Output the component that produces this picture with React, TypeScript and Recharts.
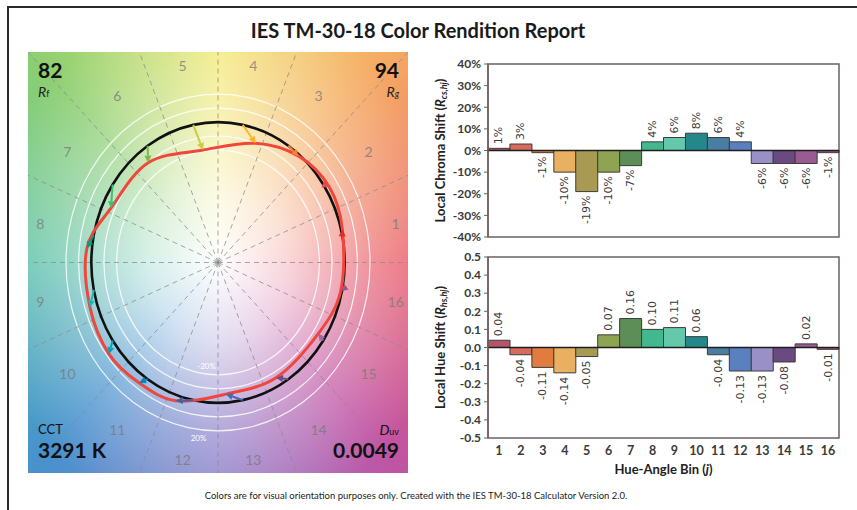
import React from "react";
import {
  BarChart,
  Bar,
  Cell,
  XAxis,
  YAxis,
  ReferenceLine,
  ReferenceArea,
  LabelList,
  Label,
  ComposedChart,
  Line,
  Scatter,
} from "recharts";

// Hue-angle bins and the two local shift series
const bins = ["1", "2", "3", "4", "5", "6", "7", "8", "9", "10", "11", "12", "13", "14", "15", "16"];
const chromaShift = [0.01, 0.03, -0.01, -0.1, -0.19, -0.1, -0.07, 0.04, 0.06, 0.08, 0.06, 0.04, -0.06, -0.06, -0.06, -0.01];
const hueShift = [0.04, -0.04, -0.11, -0.14, -0.05, 0.07, 0.16, 0.1, 0.11, 0.06, -0.04, -0.13, -0.13, -0.08, 0.02, -0.01];

const chromaTicks = [-0.4, -0.3, -0.2, -0.1, 0, 0.1, 0.2, 0.3, 0.4];
const hueTicks = [-0.5, -0.4, -0.3, -0.2, -0.1, 0, 0.1, 0.2, 0.3, 0.4, 0.5];

const barColors = [
  "#b5546a", "#d66a5c", "#e07c3e", "#e8b060", "#a89a52", "#8ea452", "#5e8e58", "#42b88e",
  "#66c8aa", "#24888a", "#4a7ea0", "#5a80c0", "#9a90c8", "#6a4a80", "#9a5a92", "#a64c78",
];
const arrowColors = [
  "#e62828", "#e74b4b", "#fb812e", "#ffb529", "#cbca46", "#7eb94c", "#41c06d", "#009c7c",
  "#16bcb0", "#00a4bf", "#0085c3", "#3b62aa", "#4568ae", "#6a4e85", "#9d69a1", "#a74f81",
];

const ringRadii = [0.8, 0.9, 1.1, 1.2];
const ringLabels = [
  { text: "-20%", r: 0.74 },
  { text: "20%", r: 1.26 },
];

const fidelityIndex = "82";
const gamutIndex = "94";
const cctText = "3291 K";
const duvText = "0.0049";

const FONT = "Lato, 'Open Sans', sans-serif";
const FRAME = "#6b6262";
const TEXT = "#3a3a3a";

// ---- vector graphic geometry ----
const PANEL_W = 380;
const PANEL_H = 421;
const SX = PANEL_W / 3;
const SY = PANEL_H / 3;
const STEP = (2 * Math.PI) / bins.length;
const binAngle = (i: number) => (i + 0.5) * STEP;

const refPoints = bins.map((_, i) => ({ x: Math.cos(binAngle(i)), y: Math.sin(binAngle(i)) }));
const testPoints = bins.map((_, i) => {
  const a = binAngle(i) + hueShift[i];
  const r = 1 + chromaShift[i];
  return { x: r * Math.cos(a), y: r * Math.sin(a) };
});
const arrows = testPoints.map((p, i) => ({ ...p, rx: refPoints[i].x, ry: refPoints[i].y, color: arrowColors[i] }));
const rings = ringRadii.map((r) => refPoints.map((p) => ({ x: p.x * r, y: p.y * r })));
const spokes = bins.map((_, i) => {
  const a = i * STEP;
  const c = Math.cos(a);
  const s = Math.sin(a);
  const t = 1.5 / Math.max(Math.abs(c), Math.abs(s));
  return { x: c * t, y: s * t };
});
const binLabels = bins.map((b, i) => ({ x: 1.43 * Math.cos(binAngle(i)), y: 1.43 * Math.sin(binAngle(i)), text: b }));
const ringText = ringLabels.map((l) => {
  const a = (263 * Math.PI) / 180;
  return { x: l.r * Math.cos(a), y: l.r * Math.sin(a), text: l.text };
});

// closed Catmull-Rom curve so the loops pass through every point
const closedCurve = (context: any) => {
  let pts: number[][] = [];
  return {
    areaStart() {},
    areaEnd() {},
    lineStart() {
      pts = [];
    },
    point(x: number, y: number) {
      pts.push([x, y]);
    },
    lineEnd() {
      const n = pts.length;
      if (!n) return;
      context.moveTo(pts[0][0], pts[0][1]);
      for (let i = 0; i < n; i++) {
        const p0 = pts[(i - 1 + n) % n];
        const p1 = pts[i];
        const p2 = pts[(i + 1) % n];
        const p3 = pts[(i + 2) % n];
        context.bezierCurveTo(
          p1[0] + (p2[0] - p0[0]) / 6,
          p1[1] + (p2[1] - p0[1]) / 6,
          p2[0] - (p3[0] - p1[0]) / 6,
          p2[1] - (p3[1] - p1[1]) / 6,
          p2[0],
          p2[1]
        );
      }
      context.closePath();
    },
  };
};

const ArrowShape = (props: any) => {
  const { cx, cy, payload } = props;
  const x0 = cx + (payload.rx - payload.x) * SX;
  const y0 = cy - (payload.ry - payload.y) * SY;
  const dx = cx - x0;
  const dy = cy - y0;
  const len = Math.hypot(dx, dy) || 1;
  const ux = dx / len;
  const uy = dy / len;
  const head = 7;
  const hw = 3.5;
  const bx = cx - ux * head;
  const by = cy - uy * head;
  const pts = `${cx},${cy} ${bx - uy * hw},${by + ux * hw} ${bx + uy * hw},${by - ux * hw}`;
  return (
    <g>
      <line x1={x0} y1={y0} x2={bx} y2={by} stroke={payload.color} strokeWidth={2} />
      <polygon points={pts} fill={payload.color} />
    </g>
  );
};

const BinText = (props: any) => (
  <text x={props.cx} y={props.cy} textAnchor="middle" dominantBaseline="central" fontSize={14} fill="#7a7a7a" fillOpacity={0.8} fontFamily={FONT}>
    {props.payload.text}
  </text>
);

const RingText = (props: any) => (
  <text x={props.cx} y={props.cy} textAnchor="middle" dominantBaseline="central" fontSize={8} fill="#fff" fontFamily={FONT}>
    {props.payload.text}
  </text>
);

function VectorPanel() {
  return (
    <div
      style={{
        position: "absolute",
        left: 28,
        top: 52,
        width: PANEL_W,
        height: PANEL_H,
        background:
          "radial-gradient(ellipse 62% 62% at 50% 50%, rgba(255,255,255,1) 0%, rgba(255,255,255,0.75) 30%, rgba(255,255,255,0.35) 65%, rgba(255,255,255,0.05) 100%), conic-gradient(from 0deg at 50% 50%, #f3ea78 0deg, #f4a25a 42deg, #e95a66 90deg, #be4a9e 138deg, #8a7cc8 180deg, #3c8ccb 222deg, #58c0a8 270deg, #86cc6a 318deg, #f3ea78 360deg)",
      }}
    >
      <ComposedChart width={PANEL_W} height={PANEL_H} margin={{ top: 0, right: 0, bottom: 0, left: 0 }}>
        <XAxis type="number" dataKey="x" domain={[-1.5, 1.5]} hide allowDataOverflow />
        <YAxis type="number" dataKey="y" domain={[-1.5, 1.5]} hide allowDataOverflow />
        {rings.map((ring, i) => (
          <Line key={`ring-${i}`} data={ring} dataKey="y" type={closedCurve as any} stroke="#ffffff" strokeOpacity={0.85} strokeWidth={1.2} dot={false} activeDot={false} isAnimationActive={false} />
        ))}
        {spokes.map((s, i) => (
          <ReferenceLine
            key={`spoke-${i}`}
            segment={[{ x: 0, y: 0 }, { x: s.x, y: s.y }]}
            stroke="#8a8a8a"
            strokeOpacity={0.75}
            strokeDasharray="5 4"
            strokeWidth={1}
            ifOverflow="visible"
          />
        ))}
        <Scatter data={ringText} shape={RingText} isAnimationActive={false} />
        <Scatter data={binLabels} shape={BinText} isAnimationActive={false} />
        <Line data={refPoints} dataKey="y" type={closedCurve as any} stroke="#111" strokeWidth={2.6} dot={false} activeDot={false} isAnimationActive={false} />
        <Scatter data={arrows} shape={ArrowShape} isAnimationActive={false} />
        <Line data={testPoints} dataKey="y" type={closedCurve as any} stroke="#f0463c" strokeWidth={3} dot={false} activeDot={false} isAnimationActive={false} />
      </ComposedChart>
      <div style={{ position: "absolute", left: 10, top: 7, fontSize: 21, fontWeight: 700, lineHeight: 1, color: "#111" }}>{fidelityIndex}</div>
      <div style={{ position: "absolute", left: 10, top: 33, fontSize: 14, lineHeight: 1, color: "#222" }}>
        <i>R</i>
        <span style={{ fontSize: 9 }}>f</span>
      </div>
      <div style={{ position: "absolute", right: 9, top: 7, fontSize: 21, fontWeight: 700, lineHeight: 1, color: "#111" }}>{gamutIndex}</div>
      <div style={{ position: "absolute", right: 9, top: 33, fontSize: 14, lineHeight: 1, color: "#222" }}>
        <i>R</i>
        <span style={{ fontSize: 9, fontStyle: "italic" }}>g</span>
      </div>
      <div style={{ position: "absolute", left: 10, top: 371, fontSize: 13, lineHeight: 1, color: "#111" }}>CCT</div>
      <div style={{ position: "absolute", left: 10, top: 387, fontSize: 21, fontWeight: 700, lineHeight: 1, color: "#111" }}>{cctText}</div>
      <div style={{ position: "absolute", right: 9, top: 371, fontSize: 14, lineHeight: 1, color: "#111" }}>
        <i>D</i>
        <span style={{ fontSize: 9 }}>uv</span>
      </div>
      <div style={{ position: "absolute", right: 9, top: 387, fontSize: 21, fontWeight: 700, lineHeight: 1, color: "#111" }}>{duvText}</div>
    </div>
  );
}

const makeBarLabel = (fmt: (v: number) => string) => (props: any) => {
  const { x, y, width, height, value } = props;
  const v = Number(value);
  const h = Number(height);
  const top = Math.min(y, y + h);
  const bottom = Math.max(y, y + h);
  const cx = x + width / 2;
  const pos = v >= 0;
  const ty = pos ? top - 4 : bottom + 4;
  return (
    <text
      x={cx}
      y={ty}
      transform={`rotate(-90, ${cx}, ${ty})`}
      textAnchor={pos ? "start" : "end"}
      dominantBaseline="central"
      fontSize={11}
      fill={TEXT}
      fontFamily="'DejaVu Sans', sans-serif"
    >
      {fmt(v)}
    </text>
  );
};

interface ShiftChartProps {
  top: number;
  height: number;
  values: number[];
  ticks: number[];
  tickFmt: (v: number) => string;
  labelFmt: (v: number) => string;
  title: string;
  sub: string;
  showX: boolean;
}

function ShiftChart({ top, height, values, ticks, tickFmt, labelFmt, title, sub, showX }: ShiftChartProps) {
  const data = bins.map((b, i) => ({ bin: b, v: values[i] }));
  const lo = ticks[0];
  const hi = ticks[ticks.length - 1];
  return (
    <div style={{ position: "absolute", left: 418, top, width: 430, height }}>
      <BarChart
        width={430}
        height={height}
        data={data}
        margin={{ top: 12, right: 9, bottom: showX ? 12 : 10, left: 0 }}
        barCategoryGap={0}
      >
        <XAxis
          dataKey="bin"
          hide={!showX}
          height={40}
          tickLine={false}
          axisLine={false}
          interval={0}
          tick={{ fontSize: 12.5, fontWeight: 700, fill: TEXT, fontFamily: FONT }}
        >
          {showX && (
            <Label
              content={({ viewBox }: any) => (
                <text
                  x={viewBox.x + viewBox.width / 2}
                  y={viewBox.y + 31}
                  textAnchor="middle"
                  dominantBaseline="central"
                  fontSize={13}
                  fontWeight={700}
                  fill="#222"
                  fontFamily={FONT}
                >
                  Hue-Angle Bin (<tspan fontStyle="italic">j</tspan>)
                </text>
              )}
            />
          )}
        </XAxis>
        <YAxis
          type="number"
          domain={[lo, hi]}
          ticks={ticks}
          interval={0}
          width={70}
          tickFormatter={tickFmt}
          tickSize={4}
          tickMargin={3}
          tickLine={{ stroke: FRAME }}
          axisLine={{ stroke: FRAME, strokeWidth: 1.5 }}
          tick={{ fontSize: 12, fontWeight: 700, fill: TEXT, fontFamily: FONT }}
        >
          <Label
            content={({ viewBox }: any) => {
              const lx = viewBox.x + 22;
              const ly = viewBox.y + viewBox.height / 2;
              return (
                <text
                  x={lx}
                  y={ly}
                  transform={`rotate(-90, ${lx}, ${ly})`}
                  textAnchor="middle"
                  dominantBaseline="central"
                  fontSize={13}
                  fontWeight={700}
                  fill="#222"
                  fontFamily={FONT}
                >
                  {title} (<tspan fontStyle="italic">R</tspan>
                  <tspan fontSize={9} dy={3} fontStyle="italic">{sub}</tspan>
                  <tspan dy={-3}>)</tspan>
                </text>
              );
            }}
          />
        </YAxis>
        <ReferenceArea x1="1" x2="16" y1={lo} y2={hi} fill="none" stroke={FRAME} strokeWidth={1.5} ifOverflow="visible" />
        <Bar dataKey="v" stroke="#3c3c3c" strokeWidth={1} isAnimationActive={false}>
          {data.map((_, i) => (
            <Cell key={`c-${i}`} fill={barColors[i]} />
          ))}
          <LabelList dataKey="v" content={makeBarLabel(labelFmt)} />
        </Bar>
        <ReferenceLine y={0} stroke="#1e1e1e" strokeWidth={1.5} />
      </BarChart>
    </div>
  );
}

export default function App() {
  return (
    <div
      style={{
        position: "fixed",
        left: 0,
        top: 0,
        width: 857,
        height: 510,
        background: "#fff",
        overflow: "hidden",
        fontFamily: FONT,
      }}
    >
      <div style={{ position: "absolute", left: 7, top: 6, width: 1000, height: 1000, border: "2px solid #2b2b2b" }} />
      <div
        style={{
          position: "absolute",
          left: 0,
          top: 20,
          width: 836,
          textAlign: "center",
          fontSize: 20,
          fontWeight: 700,
          lineHeight: 1,
          color: "#1a1a1a",
        }}
      >
        IES TM-30-18 Color Rendition Report
      </div>
      <VectorPanel />
      <ShiftChart
        top={52}
        height={195}
        values={chromaShift}
        ticks={chromaTicks}
        tickFmt={(v) => `${Math.round(v * 100)}%`}
        labelFmt={(v) => `${Math.round(v * 100)}%`}
        title="Local Chroma Shift"
        sub="cs,hj"
        showX={false}
      />
      <ShiftChart
        top={245}
        height={245}
        values={hueShift}
        ticks={hueTicks}
        tickFmt={(v) => v.toFixed(1)}
        labelFmt={(v) => v.toFixed(2)}
        title="Local Hue Shift"
        sub="hs,hj"
        showX={true}
      />
      <div
        style={{
          position: "absolute",
          left: 0,
          top: 491,
          width: 832,
          textAlign: "center",
          fontSize: 9.5,
          lineHeight: 1,
          color: "#222",
        }}
      >
        Colors are for visual orientation purposes only. Created with the IES TM-30-18 Calculator Version 2.0.
      </div>
    </div>
  );
}
